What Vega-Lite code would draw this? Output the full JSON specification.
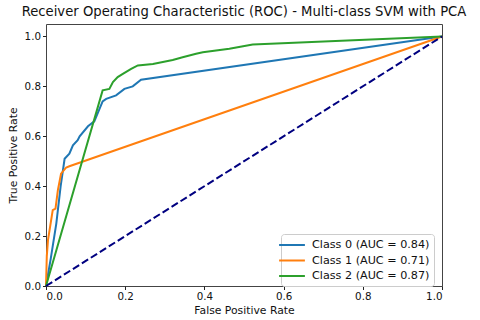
{
  "$schema": "https://vega.github.io/schema/vega-lite/v6.json",
  "autosize": "none",
  "width": 396,
  "height": 262,
  "padding": {"left": 46, "top": 24, "right": 38, "bottom": 34},
  "background": "white",
  "config": {
    "font": "DejaVu Sans",
    "view": {"stroke": "#444", "strokeWidth": 1},
    "axis": {"grid": false, "domain": false, "tickColor": "#222", "tickSize": 3.5, "labelColor": "#111", "titleColor": "#111", "labelFontSize": 10.3, "titleFontSize": 10.8, "titleFontWeight": "normal", "labelFont": "DejaVu Sans", "titleFont": "DejaVu Sans"}
  },
  "title": {"text": "Receiver Operating Characteristic (ROC) - Multi-class SVM with PCA", "fontSize": 13.2, "fontWeight": "normal", "font": "DejaVu Sans", "color": "#111", "offset": 5},
  "datasets": {
    "roc": [
      {"cls": "Class 0 (AUC = 0.84)", "o": 0, "fpr": 0.0, "tpr": 0.0},
      {"cls": "Class 0 (AUC = 0.84)", "o": 1, "fpr": 0.012, "tpr": 0.11},
      {"cls": "Class 0 (AUC = 0.84)", "o": 2, "fpr": 0.026, "tpr": 0.25},
      {"cls": "Class 0 (AUC = 0.84)", "o": 3, "fpr": 0.037, "tpr": 0.40},
      {"cls": "Class 0 (AUC = 0.84)", "o": 4, "fpr": 0.047, "tpr": 0.51},
      {"cls": "Class 0 (AUC = 0.84)", "o": 5, "fpr": 0.059, "tpr": 0.53},
      {"cls": "Class 0 (AUC = 0.84)", "o": 6, "fpr": 0.068, "tpr": 0.564},
      {"cls": "Class 0 (AUC = 0.84)", "o": 7, "fpr": 0.080, "tpr": 0.584},
      {"cls": "Class 0 (AUC = 0.84)", "o": 8, "fpr": 0.085, "tpr": 0.60},
      {"cls": "Class 0 (AUC = 0.84)", "o": 9, "fpr": 0.106, "tpr": 0.64},
      {"cls": "Class 0 (AUC = 0.84)", "o": 10, "fpr": 0.122, "tpr": 0.66},
      {"cls": "Class 0 (AUC = 0.84)", "o": 11, "fpr": 0.143, "tpr": 0.74},
      {"cls": "Class 0 (AUC = 0.84)", "o": 12, "fpr": 0.152, "tpr": 0.75},
      {"cls": "Class 0 (AUC = 0.84)", "o": 13, "fpr": 0.177, "tpr": 0.764},
      {"cls": "Class 0 (AUC = 0.84)", "o": 14, "fpr": 0.198, "tpr": 0.79},
      {"cls": "Class 0 (AUC = 0.84)", "o": 15, "fpr": 0.219, "tpr": 0.80},
      {"cls": "Class 0 (AUC = 0.84)", "o": 16, "fpr": 0.240, "tpr": 0.827},
      {"cls": "Class 0 (AUC = 0.84)", "o": 17, "fpr": 1.0, "tpr": 1.0},
      {"cls": "Class 1 (AUC = 0.71)", "o": 0, "fpr": 0.0, "tpr": 0.0},
      {"cls": "Class 1 (AUC = 0.71)", "o": 1, "fpr": 0.002, "tpr": 0.12},
      {"cls": "Class 1 (AUC = 0.71)", "o": 2, "fpr": 0.005, "tpr": 0.184},
      {"cls": "Class 1 (AUC = 0.71)", "o": 3, "fpr": 0.009, "tpr": 0.224},
      {"cls": "Class 1 (AUC = 0.71)", "o": 4, "fpr": 0.017, "tpr": 0.304},
      {"cls": "Class 1 (AUC = 0.71)", "o": 5, "fpr": 0.024, "tpr": 0.31},
      {"cls": "Class 1 (AUC = 0.71)", "o": 6, "fpr": 0.030, "tpr": 0.384},
      {"cls": "Class 1 (AUC = 0.71)", "o": 7, "fpr": 0.038, "tpr": 0.45},
      {"cls": "Class 1 (AUC = 0.71)", "o": 8, "fpr": 0.051, "tpr": 0.475},
      {"cls": "Class 1 (AUC = 0.71)", "o": 9, "fpr": 0.059, "tpr": 0.48},
      {"cls": "Class 1 (AUC = 0.71)", "o": 10, "fpr": 1.0, "tpr": 1.0},
      {"cls": "Class 2 (AUC = 0.87)", "o": 0, "fpr": 0.0, "tpr": 0.0},
      {"cls": "Class 2 (AUC = 0.87)", "o": 1, "fpr": 0.143, "tpr": 0.784},
      {"cls": "Class 2 (AUC = 0.87)", "o": 2, "fpr": 0.160, "tpr": 0.79},
      {"cls": "Class 2 (AUC = 0.87)", "o": 3, "fpr": 0.169, "tpr": 0.817},
      {"cls": "Class 2 (AUC = 0.87)", "o": 4, "fpr": 0.181, "tpr": 0.837},
      {"cls": "Class 2 (AUC = 0.87)", "o": 5, "fpr": 0.194, "tpr": 0.85},
      {"cls": "Class 2 (AUC = 0.87)", "o": 6, "fpr": 0.215, "tpr": 0.87},
      {"cls": "Class 2 (AUC = 0.87)", "o": 7, "fpr": 0.232, "tpr": 0.884},
      {"cls": "Class 2 (AUC = 0.87)", "o": 8, "fpr": 0.270, "tpr": 0.89},
      {"cls": "Class 2 (AUC = 0.87)", "o": 9, "fpr": 0.320, "tpr": 0.906},
      {"cls": "Class 2 (AUC = 0.87)", "o": 10, "fpr": 0.345, "tpr": 0.917},
      {"cls": "Class 2 (AUC = 0.87)", "o": 11, "fpr": 0.379, "tpr": 0.931},
      {"cls": "Class 2 (AUC = 0.87)", "o": 12, "fpr": 0.396, "tpr": 0.937},
      {"cls": "Class 2 (AUC = 0.87)", "o": 13, "fpr": 0.463, "tpr": 0.951},
      {"cls": "Class 2 (AUC = 0.87)", "o": 14, "fpr": 0.522, "tpr": 0.968},
      {"cls": "Class 2 (AUC = 0.87)", "o": 15, "fpr": 1.0, "tpr": 1.0}
    ],
    "diag": [
      {"fpr": 0.0, "tpr": 0.0},
      {"fpr": 1.0, "tpr": 1.0}
    ]
  },
  "layer": [
    {
      "data": {"name": "roc"},
      "mark": {"type": "line", "strokeWidth": 2},
      "encoding": {
        "x": {"field": "fpr", "type": "quantitative", "scale": {"domain": [0, 1], "nice": false, "zero": false}, "axis": {"values": [0, 0.2, 0.4, 0.6, 0.8, 1.0], "format": ".1f", "title": "False Positive Rate", "titlePadding": 3, "labelPadding": 2}},
        "y": {"field": "tpr", "type": "quantitative", "scale": {"domain": [0, 1.05], "nice": false, "zero": false}, "axis": {"values": [0, 0.2, 0.4, 0.6, 0.8, 1.0], "format": ".1f", "title": "True Positive Rate", "titlePadding": 6, "labelPadding": 2}},
        "order": {"field": "o", "type": "quantitative"},
        "color": {"field": "cls", "type": "nominal", "scale": {"range": ["#1f77b4", "#ff7f0e", "#2ca02c"]},
          "legend": {"title": null, "orient": "none", "legendX": 235, "legendY": 210, "symbolType": "M-2.15,0H2.15", "symbolStrokeWidth": 2, "symbolSize": 144, "labelFontSize": 11.2, "labelColor": "#111", "fillColor": "white", "strokeColor": "#ccc", "cornerRadius": 3, "padding": 4, "rowPadding": 2.5, "labelOffset": 13, "offset": 0}}
      }
    },
    {
      "data": {"name": "diag"},
      "mark": {"type": "line", "color": "#000080", "strokeWidth": 2, "strokeDash": [7.4, 3.2]},
      "encoding": {
        "x": {"field": "fpr", "type": "quantitative"},
        "y": {"field": "tpr", "type": "quantitative"}
      }
    }
  ]
}
